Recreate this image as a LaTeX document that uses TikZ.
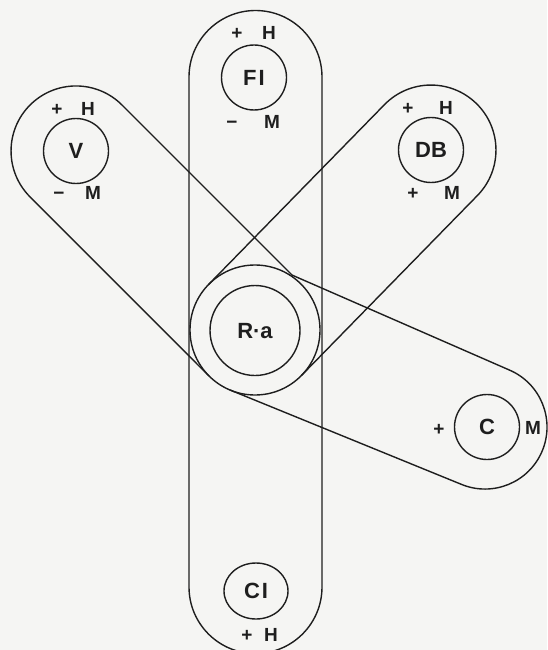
\documentclass[tikz,border=0pt]{standalone}
\usepackage{fontspec}
\setmainfont{Liberation Sans}
\usetikzlibrary{shapes.geometric}
\definecolor{ink}{RGB}{30,30,30}
\definecolor{paper}{RGB}{245,245,243}
\begin{document}
\begin{tikzpicture}[x=1pt,y=1pt,
  outline/.style={draw=ink, line width=1.4pt, line cap=round, line join=round},
  lab/.style={font=\fontsize{19}{21}\selectfont\bfseries, text=ink, inner sep=0pt, text height=13.6pt, text depth=0pt},
  big/.style={font=\fontsize{22}{25}\selectfont\bfseries, text=ink, inner sep=0pt, text height=15.8pt, text depth=0pt},
  ring/.style={draw=ink, line width=1.4pt, circle, inner sep=0pt, minimum size=65pt}]
\fill[paper] (0,0) rectangle (547,-650);
\useasboundingbox (0,0) rectangle (547,-650);

% vertical capsule FI -- Ra -- CI
\draw[outline] (189,-587) -- (189,-77) arc[start angle=180,end angle=0,radius=66.5]
  -- (322,-587) arc[start angle=0,end angle=-180,radius=66.5] -- cycle;

% V capsule and C capsule (meeting at the Ra ring)
\coordinate (P1) at (292.1,-275.1);
\draw[outline] (P1) -- (122,-105) arc[start angle=45,end angle=225,radius=65] -- (209,-376);
\draw[outline] (229.8,-389.9) -- (461,-484.2) arc[start angle=-112.78,end angle=67.22,radius=62] -- (P1);

% DB capsule
\draw[outline] (208.5,-284.6) -- (384.5,-104.6) arc[start angle=135.64,end angle=-44.36,radius=65] -- (301.5,-375.4);

% Ra rings
\node[ring, minimum size=130pt] (raout) at (255,-330) {};
\node[ring, big, minimum size=90pt] (ra) at (255,-330.5) {R·a};

% circles
\node[ring, big] (fi) at (254,-77.5) {F\kern2pt I};
\node[ring, big] (v) at (76,-151) {V};
\node[ring, big] (db) at (431,-150) {DB};
\node[ring, big] (c) at (487,-427) {C};
\node[draw=ink, line width=1.4pt, ellipse, inner sep=0pt, minimum width=64pt, minimum height=56pt, big] (ci) at (256,-591) {C\kern2pt I};

% labels
\node[lab] (fiph) at (237,-33) {+};
\node[lab] (fih) at (269,-33) {H};
\node[lab] (fimm) at (232,-122) {−};
\node[lab] (fim) at (272,-122) {M};

\node[lab] (vph) at (57,-109) {+};
\node[lab] (vh) at (88,-109) {H};
\node[lab] (vmm) at (59,-193) {−};
\node[lab] (vm) at (93,-193) {M};

\node[lab] (dbph) at (408,-108) {+};
\node[lab] (dbh) at (446,-108) {H};
\node[lab] (dbpm) at (413,-193) {+};
\node[lab] (dbm) at (452,-193) {M};

\node[lab] (cp) at (439,-429) {+};
\node[lab] (cm) at (533,-428) {M};

\node[lab] (ciph) at (247,-635) {+};
\node[lab] (cih) at (271,-635) {H};
\end{tikzpicture}
\end{document}
